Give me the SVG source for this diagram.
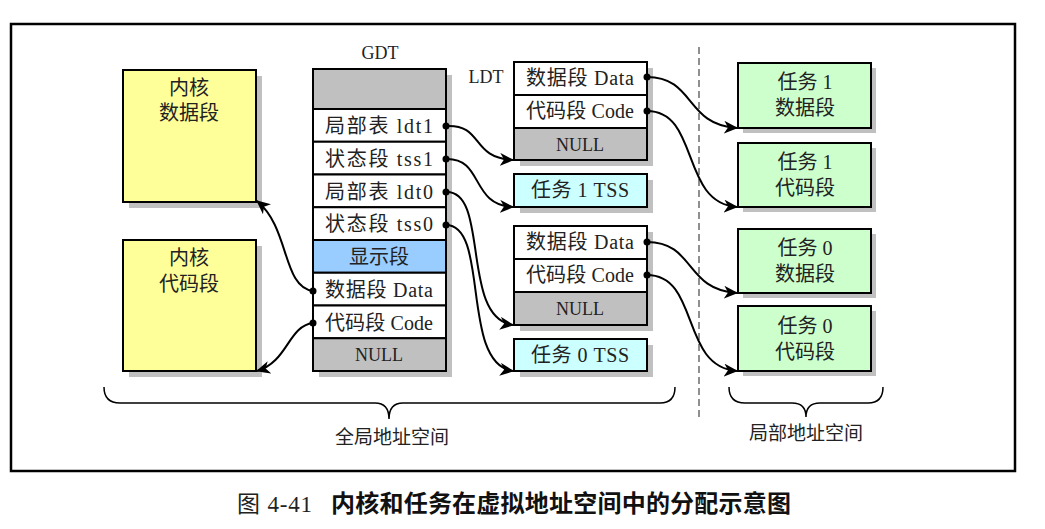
<svg xmlns="http://www.w3.org/2000/svg" width="1045" height="529" viewBox="0 0 1045 529">
<defs>
<marker id="arr" markerWidth="15" markerHeight="13" refX="13" refY="6.5" orient="auto" markerUnits="userSpaceOnUse">
<path d="M0,0 L14,6.5 L0,13 L4,6.5 z" fill="#000"/>
</marker>
</defs>
<style>
.box{stroke:#000;stroke-width:2}
.sh{fill:#c0c0c0}
.t{font-family:"Liberation Serif","Noto Sans CJK SC",serif;font-size:20px;fill:#222;text-anchor:middle}
.lab{font-family:"Liberation Serif","Noto Sans CJK SC",serif;font-size:18px;fill:#222;text-anchor:middle}
.nul{font-family:"Liberation Serif",serif;font-size:18px;fill:#222;text-anchor:middle}
.c{fill:none;stroke:#000;stroke-width:2}
.dot{fill:#000}
</style>
<rect width="1045" height="529" fill="#fff"/>
<rect x="11" y="24" width="1004" height="447" fill="none" stroke="#000" stroke-width="2.5"/>

<g id="kernel-data">
<rect class="sh" x="129" y="76" width="133" height="132"/>
<rect class="box" x="123" y="70" width="133" height="132" fill="#ffff99"/>
<text class="t" x="189" y="95">内核</text>
<text class="t" x="189" y="120">数据段</text>
</g>
<g id="kernel-code">
<rect class="sh" x="129" y="246" width="133" height="131"/>
<rect class="box" x="123" y="240" width="133" height="131" fill="#ffff99"/>
<text class="t" x="189" y="265">内核</text>
<text class="t" x="189" y="291">代码段</text>
</g>

<g id="gdt">
<text class="lab" x="380" y="59">GDT</text>
<rect class="sh" x="319" y="75" width="133" height="302"/>
<rect class="box" x="313" y="69" width="133" height="40" fill="#c0c0c0"/>
<rect class="box" x="313" y="109" width="133" height="32.75" fill="#fff"/>
<text class="t" x="379" y="133" textLength="108">局部表 ldt1</text>
<rect class="box" x="313" y="141.75" width="133" height="32.75" fill="#fff"/>
<text class="t" x="379" y="166" textLength="108">状态段 tss1</text>
<rect class="box" x="313" y="174.5" width="133" height="32.75" fill="#fff"/>
<text class="t" x="379" y="198.5" textLength="108">局部表 ldt0</text>
<rect class="box" x="313" y="207.25" width="133" height="32.75" fill="#fff"/>
<text class="t" x="379" y="231" textLength="108">状态段 tss0</text>
<rect class="box" x="313" y="240" width="133" height="32.75" fill="#99ccff"/>
<text class="t" x="379" y="264">显示段</text>
<rect class="box" x="313" y="272.75" width="133" height="32.75" fill="#fff"/>
<text class="t" x="379" y="297" textLength="108">数据段 Data</text>
<rect class="box" x="313" y="305.5" width="133" height="32.75" fill="#fff"/>
<text class="t" x="379" y="329.5" textLength="108">代码段 Code</text>
<rect class="box" x="313" y="338.25" width="133" height="32.75" fill="#c0c0c0"/>
<text class="nul" x="379" y="361">NULL</text>
</g>

<g id="ldt1">
<text class="lab" x="486" y="83">LDT</text>
<rect class="sh" x="520" y="68" width="133" height="98"/>
<rect class="box" x="514" y="62" width="133" height="33" fill="#fff"/>
<text class="t" x="580" y="85" textLength="108">数据段 Data</text>
<rect class="box" x="514" y="95" width="133" height="33" fill="#fff"/>
<text class="t" x="580" y="118" textLength="108">代码段 Code</text>
<rect class="box" x="514" y="128" width="133" height="32" fill="#c0c0c0"/>
<text class="nul" x="580" y="151">NULL</text>
</g>
<g id="tss1">
<rect class="sh" x="520" y="180" width="133" height="33"/>
<rect class="box" x="514" y="174" width="133" height="33" fill="#ccffff"/>
<text class="t" x="580" y="197" textLength="98">任务 1 TSS</text>
</g>
<g id="ldt0">
<rect class="sh" x="520" y="232" width="133" height="99"/>
<rect class="box" x="514" y="226" width="133" height="33" fill="#fff"/>
<text class="t" x="580" y="249" textLength="108">数据段 Data</text>
<rect class="box" x="514" y="259" width="133" height="33" fill="#fff"/>
<text class="t" x="580" y="282" textLength="108">代码段 Code</text>
<rect class="box" x="514" y="292" width="133" height="33" fill="#c0c0c0"/>
<text class="nul" x="580" y="315">NULL</text>
</g>
<g id="tss0">
<rect class="sh" x="520" y="345" width="133" height="32"/>
<rect class="box" x="514" y="339" width="133" height="32" fill="#ccffff"/>
<text class="t" x="580" y="362" textLength="98">任务 0 TSS</text>
</g>

<line x1="699" y1="47" x2="699" y2="420" stroke="#555" stroke-width="1.3" stroke-dasharray="7,4"/>

<g id="task1-data">
<rect class="sh" x="743" y="68" width="133" height="65"/>
<rect class="box" x="738" y="63" width="133" height="65" fill="#ccffcc"/>
<text class="t" x="805" y="89">任务 1</text>
<text class="t" x="805" y="115">数据段</text>
</g>
<g id="task1-code">
<rect class="sh" x="743" y="148" width="133" height="64"/>
<rect class="box" x="738" y="143" width="133" height="64" fill="#ccffcc"/>
<text class="t" x="805" y="169">任务 1</text>
<text class="t" x="805" y="195">代码段</text>
</g>
<g id="task0-data">
<rect class="sh" x="743" y="234" width="133" height="64"/>
<rect class="box" x="738" y="229" width="133" height="64" fill="#ccffcc"/>
<text class="t" x="805" y="255">任务 0</text>
<text class="t" x="805" y="281">数据段</text>
</g>
<g id="task0-code">
<rect class="sh" x="743" y="311" width="133" height="65"/>
<rect class="box" x="738" y="306" width="133" height="65" fill="#ccffcc"/>
<text class="t" x="805" y="333">任务 0</text>
<text class="t" x="805" y="359">代码段</text>
</g>

<g id="connectors">
<path class="c" d="M313,291 C282,287 290,228 257,201" marker-end="url(#arr)"/>
<circle class="dot" cx="313" cy="291" r="3.5"/>
<path class="c" d="M313,323 C288,326 288,362 257,371" marker-end="url(#arr)"/>
<circle class="dot" cx="313" cy="323" r="3.5"/>
<path class="c" d="M446,126 C484,124 470,158 513,160" marker-end="url(#arr)"/>
<circle class="dot" cx="446" cy="126" r="3.5"/>
<path class="c" d="M446,159 C484,158 470,205 513,207" marker-end="url(#arr)"/>
<circle class="dot" cx="446" cy="159" r="3.5"/>
<path class="c" d="M446,192 C490,190 460,318 513,325" marker-end="url(#arr)"/>
<circle class="dot" cx="446" cy="192" r="3.5"/>
<path class="c" d="M446,225 C490,225 460,364 513,371" marker-end="url(#arr)"/>
<circle class="dot" cx="446" cy="225" r="3.5"/>
<path class="c" d="M647,77 C695,77 685,125 737,128" marker-end="url(#arr)"/>
<circle class="dot" cx="647" cy="77" r="3.5" fill="#333"/>
<path class="c" d="M647,111 C700,111 680,203 737,207" marker-end="url(#arr)"/>
<circle class="dot" cx="647" cy="111" r="3.5" fill="#333"/>
<path class="c" d="M647,242 C695,242 685,290 737,293" marker-end="url(#arr)"/>
<circle class="dot" cx="647" cy="242" r="3.5" fill="#333"/>
<path class="c" d="M647,275 C700,275 680,367 737,371" marker-end="url(#arr)"/>
<circle class="dot" cx="647" cy="275" r="3.5" fill="#333"/>
</g>

<g id="braces" fill="none" stroke="#000" stroke-width="1.5">
<path d="M104,387 Q104,403 120,403 L375,403 Q389,403 389,419 Q389,403 403,403 L660,403 Q675,403 675,387"/>
<path d="M729,387 Q729,403 745,403 L792,403 Q806,403 806,417 Q806,403 820,403 L868,403 Q883,403 883,387"/>
</g>
<text class="t" x="392" y="444" style="font-size:19px">全局地址空间</text>
<text class="t" x="806" y="440" style="font-size:19px">局部地址空间</text>

<text x="237" y="512" textLength="75" style="font-family:'Liberation Serif','Noto Sans CJK SC',serif;font-size:23px;fill:#222">图 4-41</text>
<text x="331" y="512" textLength="460" style="font-family:'Noto Sans CJK SC',sans-serif;font-size:24px;font-weight:bold;fill:#111">内核和任务在虚拟地址空间中的分配示意图</text>
</svg>
